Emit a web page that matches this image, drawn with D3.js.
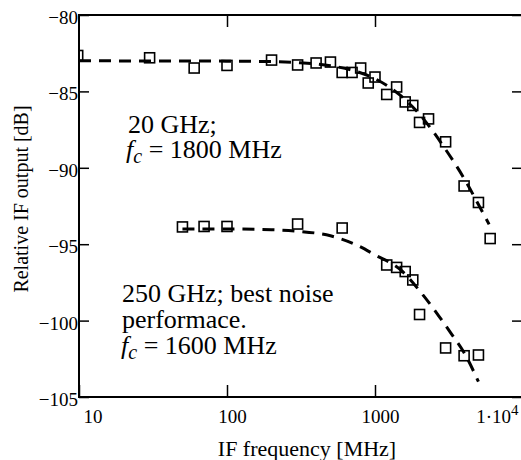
<!DOCTYPE html>
<html>
<head>
<meta charset="utf-8">
<script src="https://cdn.jsdelivr.net/npm/d3@7"></script>
<style>
body { margin: 0; background: #fff; }
svg { display: block; font-family: "Liberation Serif", "Times New Roman", serif; }
</style>
</head>
<body>
<div id="chart"></div>
<script>
// measured points, 20 GHz run
var freq20 = [9.8, 30, 60, 100, 200, 300, 400, 500, 600, 700, 800, 900, 1000, 1200, 1400, 1600, 1800, 2000, 2300, 3000, 4000, 5000, 6000];
var db20 = [-82.65, -82.8, -83.47, -83.3, -82.95, -83.27, -83.14, -83.08, -83.76, -83.76, -83.47, -84.45, -84.06, -85.2, -84.71, -85.69, -85.92, -87.03, -86.8, -88.3, -91.19, -92.27, -94.63];

// measured points, 250 GHz run
var freq250 = [50, 70, 100, 300, 600, 1200, 1400, 1600, 1800, 2000, 3000, 4000, 5000];
var db250 = [-93.87, -93.84, -93.84, -93.68, -93.94, -96.36, -96.52, -96.79, -97.34, -99.6, -101.79, -102.3, -102.25];

// dashed fit curves
var fitFreq20 = [10, 100, 200, 300, 500, 700, 1000, 1500, 2000, 3000, 4000, 5000, 5900];
var fitDb20 = [-83.0, -83.02, -83.05, -83.12, -83.32, -83.61, -84.17, -85.3, -86.5, -88.8, -90.7, -92.4, -93.7];
var fitFreq250 = [50, 100, 200, 300, 500, 770, 1000, 1500, 2100, 2700, 3300, 4000, 5000];
var fitDb250 = [-94.0, -94.0, -94.05, -94.15, -94.45, -95.1, -95.7, -96.7, -98.3, -99.7, -100.9, -102.1, -104.0];

var yTicks = [-80, -85, -90, -95, -100, -105];
var xTicks = [10, 100, 1000, 10000];
var xTickLabels = ["10", "100", "1000", "1·10"];

var W = 521, H = 460;
var padL = 79, padR = 523, padT = 15, padB = 397;

var svg = d3.select("#chart").append("svg")
	.attr("width", W)
	.attr("height", H);

var x = d3.scaleLog().domain([10, 10000]).range([padL, padR]);
var y = d3.scaleLinear().domain([-105, -80]).range([padB, padT]);

svg.append("clipPath").attr("id", "plotclip")
	.append("rect")
	.attr("x", padL).attr("y", padT)
	.attr("width", padR - padL).attr("height", padB - padT);

function zip(fs, ds){
	return fs.map(function(f, i){ return {f: f, db: ds[i]}; });
}

var line = d3.line()
	.x(function(d){ return x(d.f); })
	.y(function(d){ return y(d.db); })
	.curve(d3.curveMonotoneX);

var plot = svg.append("g").attr("clip-path", "url(#plotclip)");

[zip(fitFreq20, fitDb20), zip(fitFreq250, fitDb250)].forEach(function(pts){
	plot.append("path")
		.datum(pts)
		.attr("d", line)
		.attr("fill", "none")
		.attr("stroke", "#000")
		.attr("stroke-width", 3)
		.attr("stroke-dasharray", "12,8");
});

var sq = 10;
plot.selectAll("rect.pt")
	.data(zip(freq20, db20).concat(zip(freq250, db250)))
	.enter()
	.append("rect")
	.attr("class", "pt")
	.attr("x", function(d){ return x(d.f) - sq / 2; })
	.attr("y", function(d){ return y(d.db) - sq / 2; })
	.attr("width", sq)
	.attr("height", sq)
	.attr("fill", "none")
	.attr("stroke", "#000")
	.attr("stroke-width", 1.6);

// frame
svg.append("rect")
	.attr("x", padL).attr("y", padT)
	.attr("width", padR - padL).attr("height", padB - padT)
	.attr("fill", "none")
	.attr("stroke", "#000")
	.attr("stroke-width", 2);

function plain(g){
	g.attr("font-family", null).attr("font-size", 19);
	g.select(".domain").remove();
	g.selectAll("line").attr("stroke-width", 1.5);
}

// left axis (labels + inward ticks)
var gLeft = svg.append("g")
	.attr("transform", "translate(" + padL + ",0)")
	.call(d3.axisLeft(y).tickValues(yTicks).tickSizeInner(-10).tickSizeOuter(0).tickPadding(1));
plain(gLeft);
gLeft.selectAll("text").attr("dy", "0.45em");

// right axis ticks only
var gRight = svg.append("g")
	.attr("transform", "translate(" + padR + ",0)")
	.call(d3.axisRight(y).tickValues(yTicks).tickSizeInner(-11).tickSizeOuter(0).tickFormat(""));
plain(gRight);

// top axis ticks only
var gTop = svg.append("g")
	.attr("transform", "translate(0," + padT + ")")
	.call(d3.axisTop(x).tickValues([100, 1000]).tickSizeInner(-12).tickSizeOuter(0).tickFormat(""));
plain(gTop);

// bottom axis
var gBottom = svg.append("g")
	.attr("transform", "translate(0," + padB + ")")
	.call(d3.axisBottom(x).tickValues(xTicks).tickSizeInner(-12).tickSizeOuter(0)
		.tickFormat(function(d, i){ return xTickLabels[i]; }));
plain(gBottom);
gBottom.selectAll("text")
	.attr("y", 26)
	.attr("dy", 0)
	.attr("dx", function(d, i){ return i == 0 ? 4 : (i == xTicks.length - 1 ? -5 : 5); })
	.attr("text-anchor", function(d, i){ return i == 0 ? "start" : (i == xTicks.length - 1 ? "end" : "middle"); })
	.each(function(d, i){
		if(i == xTicks.length - 1){
			d3.select(this).append("tspan")
				.attr("font-size", 15)
				.attr("dy", -8)
				.text("4");
		}
	});

// axis titles
svg.append("text")
	.attr("x", 307).attr("y", 456)
	.attr("text-anchor", "middle")
	.attr("font-size", 22)
	.text("IF frequency [MHz]");

svg.append("text")
	.attr("transform", "translate(28,199) rotate(-90)")
	.attr("text-anchor", "middle")
	.attr("font-size", 20)
	.text("Relative IF output [dB]");

// annotations
function fcLine(xp, yp, rest){
	var t = svg.append("text")
		.attr("x", xp).attr("y", yp)
		.attr("font-size", 26);
	t.append("tspan").attr("font-style", "italic").text("f");
	t.append("tspan").attr("font-style", "italic").attr("font-size", 20).attr("dy", 5).text("c");
	t.append("tspan").attr("dy", -5).text(rest);
}

svg.append("text")
	.attr("x", 128).attr("y", 133)
	.attr("font-size", 26)
	.text("20 GHz;");
fcLine(126, 158, " = 1800 MHz");

svg.append("text")
	.attr("x", 122).attr("y", 302)
	.attr("font-size", 26)
	.text("250 GHz; best noise");
svg.append("text")
	.attr("x", 122).attr("y", 328)
	.attr("font-size", 26)
	.text("performace.");
fcLine(121, 354, " = 1600 MHz");
</script>
</body>
</html>
